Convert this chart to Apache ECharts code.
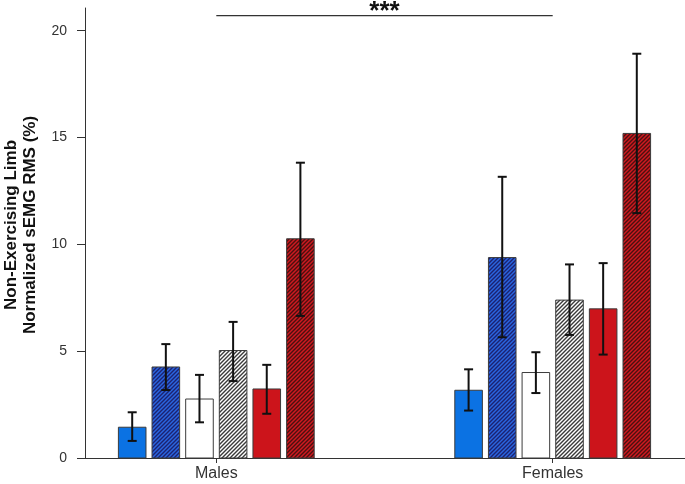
<!DOCTYPE html>
<html>
<head>
<meta charset="utf-8">
<script src="https://cdn.jsdelivr.net/npm/echarts@6/dist/echarts.min.js"></script>
<style>html,body{margin:0;padding:0;background:#fff}#c{width:685px;height:484px}</style>
</head>
<body>
<div id="c"></div>
<script>
const categories = ['Males', 'Females'];
const barStyles = ['blueSolid', 'blueHatch', 'white', 'grayHatch', 'redSolid', 'redHatch'];
const maleMean = [1.44, 4.26, 2.76, 5.03, 3.23, 10.26];
const maleLow = [0.80, 3.18, 1.67, 3.60, 2.07, 6.65];
const maleHigh = [2.14, 5.33, 3.89, 6.37, 4.36, 13.82];
const femaleMean = [3.17, 9.38, 4.00, 7.39, 6.98, 15.19];
const femaleLow = [2.22, 5.65, 3.04, 5.76, 4.84, 11.46];
const femaleHigh = [4.15, 13.16, 4.95, 9.06, 9.12, 18.92];
const yTicks = [0, 5, 10, 15, 20];
const sigLevel = 20.7;
const sigLabel = '***';
const yName = 'Non-Exercising Limb\nNormalized sEMG RMS (%)';

function hatch(base, line) {
  const s = 4;
  const c = document.createElement('canvas');
  c.width = s; c.height = s;
  const g = c.getContext('2d');
  g.fillStyle = base; g.fillRect(0, 0, s, s);
  g.strokeStyle = line; g.lineWidth = 1.4;
  g.beginPath();
  g.moveTo(-1, 1); g.lineTo(1, -1);
  g.moveTo(0, s); g.lineTo(s, 0);
  g.moveTo(s - 1, s + 1); g.lineTo(s + 1, s - 1);
  g.stroke();
  return { image: c, repeat: 'repeat' };
}
const fills = {
  blueSolid: '#0b72e3',
  blueHatch: hatch('#2a66e0', '#1c2270'),
  white: '#ffffff',
  grayHatch: hatch('#ffffff', '#3a3a3a'),
  redSolid: '#cc141b',
  redHatch: hatch('#cf1a20', '#4a1010')
};

const groupMeans = [maleMean, femaleMean];
const groupLow = [maleLow, femaleLow];
const groupHigh = [maleHigh, femaleHigh];
const data = [];
categories.forEach((cat, gi) => {
  barStyles.forEach((st, bi) => {
    data.push([gi + 1, groupMeans[gi][bi], groupLow[gi][bi], groupHigh[gi][bi], bi]);
  });
});

const step = 0.1, bw = 0.082;
const chart = echarts.init(document.getElementById('c'));
chart.setOption({
  animation: false,
  grid: { left: 85, right: 0, top: 8, bottom: 26, containLabel: false, outerBoundsMode: 'none' },
  xAxis: {
    type: 'value', min: 0.6097, max: 2.3933,
    splitLine: { show: false },
    axisLine: { show: true, lineStyle: { color: '#333', width: 1 } },
    axisTick: { show: true, length: 5, customValues: [1, 2], lineStyle: { color: '#333' } },
    axisLabel: { customValues: [1, 2], formatter: v => categories[Math.round(v) - 1] || '', color: '#333', fontSize: 16, fontFamily: 'Liberation Sans, Arial', margin: 8 }
  },
  yAxis: {
    type: 'value', min: 0, max: 21.06,
    name: yName, nameLocation: 'middle', nameGap: 45, nameRotate: 90,
    nameTextStyle: { fontSize: 17, fontWeight: 'bold', color: '#111', fontFamily: 'Liberation Sans, Arial', lineHeight: 19, align: 'center', padding: [0, 0, 0, 16] },
    splitLine: { show: false },
    axisLine: { show: true, lineStyle: { color: '#333', width: 1 } },
    axisTick: { show: true, length: 8, customValues: yTicks, lineStyle: { color: '#333' } },
    axisLabel: { customValues: yTicks, color: '#333', fontSize: 14, fontFamily: 'Liberation Sans, Arial', margin: 18 }
  },
  series: [{
    type: 'custom',
    clip: false,
    data: data,
    renderItem: function (params, api) {
      const gx = api.value(0), m = api.value(1), lo = api.value(2), hi = api.value(3), bi = api.value(4);
      const cx = gx + (bi - 2.5) * step;
      const p0 = api.coord([cx - bw / 2, m]);
      const p1 = api.coord([cx + bw / 2, 0]);
      const pc = api.coord([cx, lo]);
      const ph = api.coord([cx, hi]);
      const cap = 4.5;
      return {
        type: 'group',
        children: [
          { type: 'rect', shape: { x: p0[0], y: p0[1], width: p1[0] - p0[0], height: p1[1] - p0[1] },
            style: { fill: fills[barStyles[bi]], stroke: '#3c3c3c', lineWidth: 1 } },
          { type: 'line', shape: { x1: pc[0], y1: pc[1], x2: ph[0], y2: ph[1] }, style: { stroke: '#111', lineWidth: 2 } },
          { type: 'line', shape: { x1: pc[0] - cap, y1: pc[1], x2: pc[0] + cap, y2: pc[1] }, style: { stroke: '#111', lineWidth: 2 } },
          { type: 'line', shape: { x1: ph[0] - cap, y1: ph[1], x2: ph[0] + cap, y2: ph[1] }, style: { stroke: '#111', lineWidth: 2 } }
        ]
      };
    }
  }, {
    type: 'custom',
    clip: false,
    data: [[1, 2, sigLevel]],
    renderItem: function (params, api) {
      const a = api.coord([api.value(0), api.value(2)]);
      const b = api.coord([api.value(1), api.value(2)]);
      return {
        type: 'group',
        children: [
          { type: 'line', shape: { x1: a[0], y1: a[1], x2: b[0], y2: b[1] }, style: { stroke: '#333', lineWidth: 1.2 } },
          { type: 'text', x: (a[0] + b[0]) / 2, y: a[1] - 17,
            style: { text: sigLabel, fill: '#111', font: 'bold 26px "Liberation Sans", Arial', align: 'center', verticalAlign: 'top' } }
        ]
      };
    }
  }]
});
</script>
</body>
</html>
